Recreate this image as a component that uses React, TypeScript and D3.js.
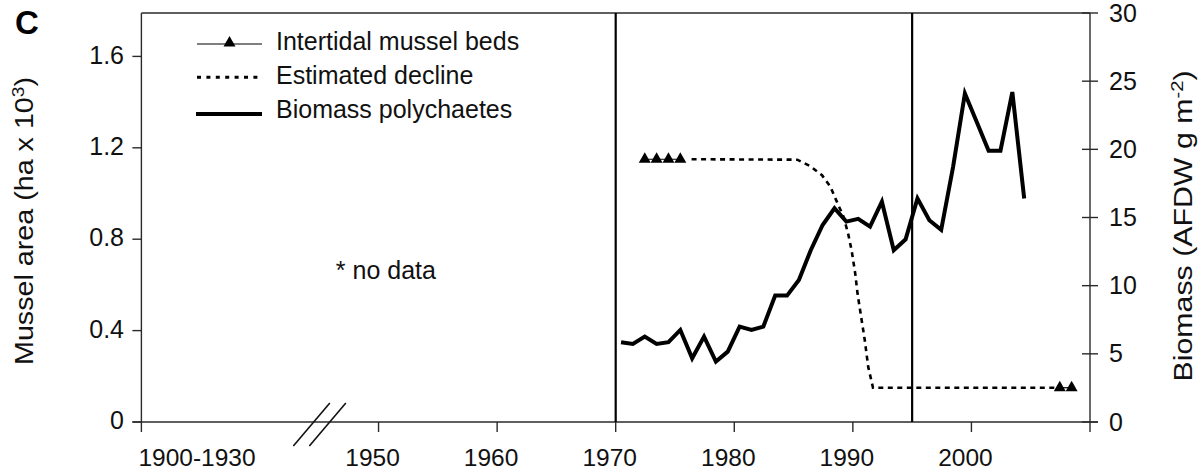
import React from "react";
import * as d3 from "d3";

// ---------- data ----------
const years = [
  1970, 1971, 1972, 1973, 1974, 1975, 1976, 1977, 1978, 1979,
  1980, 1981, 1982, 1983, 1984, 1985, 1986, 1987, 1988, 1989,
  1990, 1991, 1992, 1993, 1994, 1995, 1996, 1997, 1998, 1999,
  2000, 2001, 2002, 2003, 2004,
];
const biomass = [
  5.85, 5.72, 6.26, 5.72, 5.85, 6.75, 4.67, 6.26, 4.43, 5.16,
  7.0, 6.75, 7.0, 9.27, 9.27, 10.42, 12.6, 14.45, 15.68, 14.7,
  14.9, 14.33, 16.16, 12.6, 13.4, 16.4, 14.8, 14.1, 18.7, 24.1,
  22.0, 19.9, 19.9, 24.2, 16.4,
];
const musselYears = [1972, 1973, 1974, 1975, 2007, 2008];
const musselArea = [1.15, 1.15, 1.15, 1.15, 0.15, 0.15];
const declineYears = [
  1976.4, 1985.3, 1986.4, 1987.4, 1988.1, 1988.6, 1989.2, 1989.6,
  1989.9, 1990.2, 1990.4, 1990.7, 1991.0, 1991.3, 1991.7, 2007.0,
];
const declineArea = [
  1.15, 1.148, 1.12, 1.08, 1.03, 0.97, 0.9, 0.825,
  0.75, 0.65, 0.56, 0.46, 0.36, 0.24, 0.15, 0.15,
];
const xTicks = [1930, 1950, 1960, 1970, 1980, 1990, 2000, 2010];
const xTickLabels = ["1900-1930", "1950", "1960", "1970", "1980", "1990", "2000", ""];
const leftTicks = [0, 0.4, 0.8, 1.2, 1.6];
const leftTickLabels = ["0", "0.4", "0.8", "1.2", "1.6"];
const rightTicks = [0, 5, 10, 15, 20, 25, 30];
const markerYears = [1970, 1995];
const breakYears = [1944.5, 1945.85];
const legendLabels = ["Intertidal mussel beds", "Estimated decline", "Biomass polychaetes"];
const noDataYear = 1946.4;
const noDataValue = 0.628;

// ---------- layout ----------
const W = 1198;
const H = 470;
const L = 141.4;
const R = 1090;
const T = 13;
const B = 422;
const yearOffset = 0.45;
const FONT = "'Liberation Sans', Arial, Helvetica, sans-serif";
const AX = "#2a2a2a";

export default function App() {
  const x = d3.scaleLinear().domain([1930, 2010]).range([L, R]);
  const yL = d3.scaleLinear().domain([0, 1.79]).range([B, T]);
  const yR = d3.scaleLinear().domain([0, 30]).range([B, T]);

  const bioLine = d3
    .line<number>()
    .x((_, i) => x(years[i] + yearOffset))
    .y((d) => yR(d))(biomass) as string;

  const declineLine = d3
    .line<number>()
    .x((_, i) => x(declineYears[i]))
    .y((d) => yL(d))(declineArea) as string;

  // mussel segments (consecutive years)
  const segs: number[][] = [];
  musselYears.forEach((yr, i) => {
    if (i === 0 || yr - musselYears[i - 1] > 1) segs.push([i]);
    else segs[segs.length - 1].push(i);
  });
  const musselLine = d3
    .line<number>()
    .x((i) => x(musselYears[i] + yearOffset))
    .y((i) => yL(musselArea[i]));
  const tri = d3.symbol().type(d3.symbolTriangle).size(62)() as string;

  const legX0 = 197;
  const legX1 = 262;
  const legText = 276;
  const legBase = [50, 84, 118.3];

  return (
    <div style={{ position: "absolute", left: 0, top: 0 }}>
      <svg width={W} height={H} style={{ display: "block", background: "#fff" }} fontFamily={FONT}>
        {/* panel letter */}
        <text x={15} y={33.5} fontSize={33} fontWeight="bold" fill="#000">C</text>

        {/* frame */}
        <line x1={L} x2={R} y1={T} y2={T} stroke={AX} strokeWidth={1.4} />
        <line x1={L} x2={L} y1={T} y2={B} stroke={AX} strokeWidth={1.4} />
        <line x1={R} x2={R} y1={T} y2={B} stroke={AX} strokeWidth={1.4} />
        <line x1={L - 9} x2={R + 8} y1={B} y2={B} stroke={AX} strokeWidth={1.4} />

        {/* left axis */}
        {leftTicks.map((t, i) => (
          <g key={"l" + t}>
            <line x1={L - 9} x2={L} y1={yL(t)} y2={yL(t)} stroke={AX} strokeWidth={1.4} />
            <text x={124} y={yL(t)} dy="0.29em" textAnchor="end" fontSize={25} fill="#111">
              {leftTickLabels[i]}
            </text>
          </g>
        ))}

        {/* right axis */}
        {rightTicks.map((t) => (
          <g key={"r" + t}>
            <line x1={R - 8} x2={R + 8} y1={yR(t)} y2={yR(t)} stroke={AX} strokeWidth={1.4} />
            <text x={1109} y={yR(t)} dy="0.34em" textAnchor="start" fontSize={25} fill="#111">
              {t}
            </text>
          </g>
        ))}

        {/* bottom axis */}
        {xTicks.map((t, i) => (
          <g key={"x" + t}>
            <line x1={x(t)} x2={x(t)} y1={B} y2={B + 10} stroke={AX} strokeWidth={1.4} />
            <text
              x={i === 0 ? x(t) - 3 : x(t) - 6}
              y={466}
              textAnchor={i === 0 ? "start" : "middle"}
              fontSize={24.5}
              fill="#111"
            >
              {xTickLabels[i]}
            </text>
          </g>
        ))}

        {/* axis break marks */}
        {breakYears.map((b) => (
          <line
            key={"b" + b}
            x1={x(b) - 20}
            y1={B + 24}
            x2={x(b) + 16.5}
            y2={B - 19}
            stroke="#111"
            strokeWidth={1.6}
          />
        ))}

        {/* vertical reference lines */}
        {markerYears.map((m) => (
          <line key={"m" + m} x1={x(m)} x2={x(m)} y1={T} y2={B} stroke="#000" strokeWidth={2.2} />
        ))}

        {/* estimated decline */}
        <path d={declineLine} fill="none" stroke="#000" strokeWidth={2.6} strokeDasharray="5,4.5" />

        {/* mussel beds */}
        {segs.map((s, k) => (
          <g key={"s" + k}>
            <path d={musselLine(s) as string} fill="none" stroke="#000" strokeWidth={1.2} />
            {s.map((i) => (
              <path
                key={"t" + i}
                d={tri}
                transform={`translate(${x(musselYears[i] + yearOffset)},${yL(musselArea[i])})`}
                fill="#000"
              />
            ))}
          </g>
        ))}

        {/* biomass */}
        <path d={bioLine} fill="none" stroke="#000" strokeWidth={4} strokeLinejoin="miter" />

        {/* no data note */}
        <text x={x(noDataYear)} y={yL(noDataValue)} fontSize={25} fill="#111">* no data</text>

        {/* legend */}
        <line x1={legX0} x2={legX1} y1={44} y2={44} stroke="#000" strokeWidth={1.2} />
        <path d={tri} transform={`translate(${(legX0 + legX1) / 2},${43})`} fill="#000" />
        <line x1={legX0} x2={legX1} y1={77.3} y2={77.3} stroke="#000" strokeWidth={3} strokeDasharray="4,5.4" />
        <line x1={legX0 - 1} x2={legX1} y1={114} y2={114} stroke="#000" strokeWidth={4} />
        {legendLabels.map((lab, i) => (
          <text key={lab} x={legText} y={legBase[i]} fontSize={25} fill="#111">{lab}</text>
        ))}

        {/* axis titles */}
        <text
          transform={`translate(33,221) rotate(-90)`}
          textAnchor="middle"
          fontSize={25.5}
          fill="#111"
          textLength={288}
          lengthAdjust="spacingAndGlyphs"
        >
          Mussel area (ha x 10
          <tspan baselineShift="super" fontSize={17}>3</tspan>
          <tspan baselineShift="0">)</tspan>
        </text>
        <text
          transform={`translate(1192,226) rotate(-90)`}
          textAnchor="middle"
          fontSize={25.5}
          fill="#111"
          textLength={311}
          lengthAdjust="spacingAndGlyphs"
        >
          Biomass (AFDW g m
          <tspan baselineShift="super" fontSize={17}>-2</tspan>
          <tspan baselineShift="0">)</tspan>
        </text>
      </svg>
    </div>
  );
}
